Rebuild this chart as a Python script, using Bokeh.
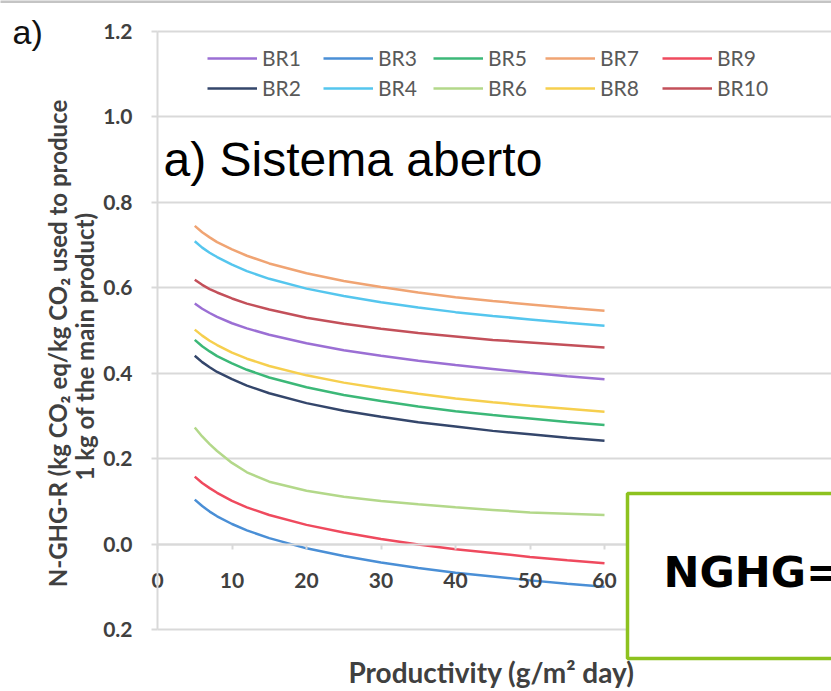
import math
from bokeh.plotting import figure
from bokeh.models import (Legend, LegendItem, Label, FixedTicker, Range1d,
                          BoxAnnotation, Grid)
from bokeh.embed import file_html
from bokeh.resources import INLINE

# ---------------- data ----------------
productivity = [5, 6, 7, 8, 10, 12, 15, 20, 25, 30, 35, 40, 45, 50, 55, 60]

br1 = [0.563, 0.551, 0.541, 0.532, 0.517, 0.505, 0.490, 0.470, 0.454, 0.441, 0.429, 0.419, 0.410, 0.401, 0.393, 0.386]
br2 = [0.441, 0.426, 0.414, 0.403, 0.386, 0.371, 0.353, 0.330, 0.312, 0.298, 0.285, 0.275, 0.265, 0.257, 0.249, 0.242]
br3 = [0.104, 0.089, 0.076, 0.065, 0.047, 0.032, 0.014, -0.010, -0.028, -0.043, -0.056, -0.067, -0.076, -0.085, -0.093, -0.100]
br4 = [0.709, 0.694, 0.682, 0.672, 0.654, 0.639, 0.621, 0.598, 0.581, 0.566, 0.554, 0.543, 0.534, 0.526, 0.518, 0.511]
br5 = [0.478, 0.463, 0.451, 0.440, 0.423, 0.408, 0.390, 0.367, 0.349, 0.335, 0.322, 0.311, 0.302, 0.294, 0.286, 0.279]
br6 = [0.273, 0.252, 0.234, 0.218, 0.190, 0.168, 0.146, 0.125, 0.111, 0.101, 0.093, 0.086, 0.080, 0.074, 0.071, 0.068]
br7 = [0.745, 0.730, 0.718, 0.707, 0.690, 0.675, 0.657, 0.634, 0.616, 0.602, 0.589, 0.578, 0.569, 0.561, 0.553, 0.546]
br8 = [0.502, 0.488, 0.476, 0.466, 0.448, 0.434, 0.417, 0.395, 0.378, 0.364, 0.352, 0.341, 0.332, 0.324, 0.317, 0.310]
br9 = [0.158, 0.143, 0.131, 0.120, 0.101, 0.086, 0.068, 0.045, 0.027, 0.012, -0.001, -0.012, -0.021, -0.030, -0.038, -0.045]
br10 = [0.619, 0.607, 0.597, 0.589, 0.575, 0.563, 0.549, 0.530, 0.516, 0.504, 0.494, 0.486, 0.478, 0.472, 0.466, 0.460]

series_names = ["BR1", "BR2", "BR3", "BR4", "BR5", "BR6", "BR7", "BR8", "BR9", "BR10"]
series_values = [br1, br2, br3, br4, br5, br6, br7, br8, br9, br10]

x_ticks = [0, 10, 20, 30, 40, 50, 60]
y_ticks = [-0.2, 0.0, 0.2, 0.4, 0.6, 0.8, 1.0, 1.2]
y_tick_labels = ["0.2", "0.0", "0.2", "0.4", "0.6", "0.8", "1.0", "1.2"]

# ---------------- styles / layout ----------------
colors = {
    "BR1": "#9b6fd4", "BR2": "#34466b", "BR3": "#4a8fd6", "BR4": "#55c6ee",
    "BR5": "#3cb878", "BR6": "#b3d88a", "BR7": "#f0a473", "BR8": "#f6cf4e",
    "BR9": "#ef4a5e", "BR10": "#c3505a",
}

W, H = 831, 691
X0 = 157          # pixel of x = 0
XS = 7.45         # pixels per x unit
F_TOP, F_BOT = 31, 629   # pixels of y = 1.2 and y = -0.2
YS = (F_BOT - F_TOP) / 1.4
Y0 = F_TOP + 1.2 * YS


def dx(px):
    return (px - X0) / XS


def dy(py):
    return (Y0 - py) / YS


XMAX = dx(W)

# the plotting frame covers the whole canvas; axes are placed at x=0 / y=0
p = figure(width=W, height=H, output_backend="svg", toolbar_location=None,
           x_range=Range1d(dx(0), dx(W)), y_range=Range1d(dy(H), dy(0)),
           min_border=0, min_border_left=0, min_border_right=0,
           min_border_top=0, min_border_bottom=0)
p.outline_line_color = None
p.background_fill_color = "white"
p.border_fill_color = "white"

grid_col = "#d9d9d9"
p.xgrid.visible = False
yg = p.ygrid[0]
yg.ticker = FixedTicker(ticks=y_ticks)
yg.grid_line_color = grid_col
yg.grid_line_width = 2
if "cross_bounds" in Grid.properties():
    yg.cross_bounds = (0, XMAX)

# y axis
ya = p.yaxis[0]
ya.fixed_location = 0
ya.bounds = (-0.2, 1.2)
ya.ticker = FixedTicker(ticks=y_ticks)
ya.major_label_overrides = {t: s for t, s in zip(y_ticks, y_tick_labels)}
ya.axis_line_color = grid_col
ya.axis_line_width = 2
ya.major_tick_line_color = grid_col
ya.major_tick_line_width = 2
ya.major_tick_out = 6
ya.major_tick_in = 0
ya.minor_tick_line_color = None
ya.major_label_standoff = 19
ya.major_label_text_font = "Lato"
ya.major_label_text_font_style = "bold"
ya.major_label_text_font_size = "21px"
ya.major_label_text_color = "#404040"

# x axis crossing at y = 0
xa = p.xaxis[0]
xa.fixed_location = 0
xa.bounds = (0, XMAX)
xa.ticker = FixedTicker(ticks=x_ticks)
xa.axis_line_color = grid_col
xa.axis_line_width = 2
xa.major_tick_line_color = grid_col
xa.major_tick_line_width = 2
xa.major_tick_out = 5
xa.major_tick_in = 0
xa.minor_tick_line_color = None
xa.major_label_standoff = 24
xa.major_label_text_font = "Lato"
xa.major_label_text_font_style = "bold"
xa.major_label_text_font_size = "21px"
xa.major_label_text_color = "#404040"

renderers = {}
for name, vals in zip(series_names, series_values):
    renderers[name] = p.line(productivity, vals, line_color=colors[name], line_width=2.5)

# legend: two rows, five columns (pixel anchors of each entry)
legend_pos = {"BR1": (207, 58), "BR3": (323, 58), "BR5": (433, 58), "BR7": (545, 58), "BR9": (662, 58),
              "BR2": (207, 88), "BR4": (323, 88), "BR6": (433, 88), "BR8": (545, 88), "BR10": (662, 88)}
for name in series_names:
    lx, ly = legend_pos[name]
    lg = Legend(items=[LegendItem(label=name, renderers=[renderers[name]])],
                location=(lx, H - (ly + 12)),
                padding=0, margin=0, spacing=0,
                glyph_width=50, glyph_height=24, label_height=24, label_standoff=5,
                border_line_color=None, background_fill_alpha=0,
                label_text_font="Lato", label_text_font_size="21px",
                label_text_color="#595959")
    p.add_layout(lg)

# axis titles
p.add_layout(Label(x=dx(491), y=dy(671), text="Productivity (g/m\u00b2 day)",
                   text_align="center", text_baseline="middle",
                   text_font="Lato", text_font_style="bold", text_font_size="28px",
                   text_color="#404040"))
p.add_layout(Label(x=dx(57), y=dy(343), text="N-GHG-R (kg CO\u2082 eq/kg CO\u2082 used to produce",
                   angle=math.pi / 2, text_align="center", text_baseline="middle",
                   text_font="Lato", text_font_style="bold", text_font_size="24px",
                   text_color="#404040"))
p.add_layout(Label(x=dx(84), y=dy(346), text="1 kg of the main product)",
                   angle=math.pi / 2, text_align="center", text_baseline="middle",
                   text_font="Lato", text_font_style="bold", text_font_size="24px",
                   text_color="#404040"))

# panel texts
p.add_layout(Label(x=dx(12), y=dy(31), text="a)", text_align="left", text_baseline="middle",
                   text_font="Liberation Sans", text_font_size="34px", text_color="#111111"))
p.add_layout(Label(x=dx(163), y=dy(159), text="a) Sistema aberto", text_align="left",
                   text_baseline="middle", text_font="Liberation Sans", text_font_size="48px",
                   text_color="#000000"))

# top slide border
p.add_layout(BoxAnnotation(left=dx(-5), right=dx(840), top=dy(-5), bottom=dy(2.5),
                           fill_color="#c4c4c4", fill_alpha=1, line_color=None))

# green formula box
p.add_layout(BoxAnnotation(left=dx(627), right=dx(860), top=dy(493), bottom=dy(658),
                           fill_color="white", fill_alpha=1, line_color="#8dc21f",
                           line_alpha=1, line_width=3.5))
p.add_layout(Label(x=dx(663), y=dy(571), text="NGHG=", text_align="left",
                   text_baseline="middle", text_font="DejaVu Sans", text_font_style="bold",
                   text_font_size="43px", text_color="#000000"))

open("out.html", "w").write(file_html(p, INLINE))
